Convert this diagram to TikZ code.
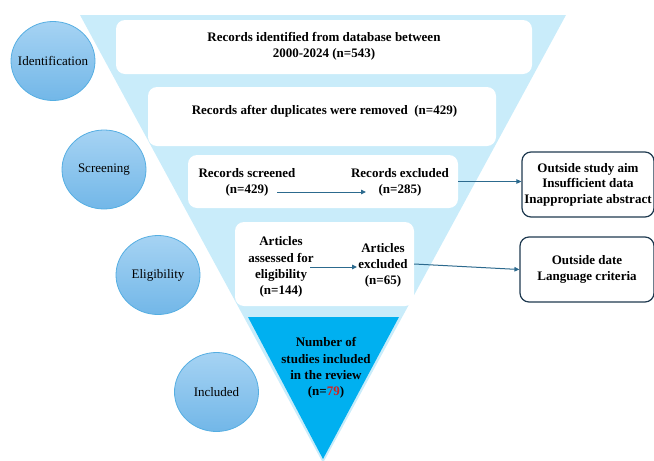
\documentclass[tikz,border=0pt]{standalone}
\usepackage{fontspec}
\setmainfont{Liberation Serif}
\usetikzlibrary{arrows.meta,shapes.geometric}
\definecolor{funnel}{HTML}{C9ECFA}
\definecolor{incl}{HTML}{00B0F0}
\definecolor{ringtop}{HTML}{A6D3F3}
\definecolor{ringbot}{HTML}{72B7E8}
\definecolor{ringline}{HTML}{55AEE2}
\definecolor{boxline}{HTML}{1F3A50}
\definecolor{arrline}{HTML}{2C6A8E}
\definecolor{numred}{HTML}{D02020}
\tikzset{
  stage/.style={ellipse,minimum width=84pt,minimum height=79pt,draw=ringline,
    line width=0.8pt,top color=ringtop,bottom color=ringbot,inner sep=0pt,
    label={[font=\fontsize{13}{16}\selectfont,inner sep=0pt]center:#1}},
  slab/.style={fill=white,rounded corners=9pt,inner sep=0pt},
  txt/.style={align=center,inner sep=0pt,font=\fontsize{13}{16.2}\selectfont\bfseries},
  why/.style={draw=boxline,line width=1.2pt,rounded corners=9pt,fill=white,inner sep=0pt,
    align=center,font=\fontsize{13}{15.6}\selectfont\bfseries},
  arr/.style={draw=arrline,line width=1pt,-{Triangle[length=5pt,width=4.5pt]}}
}
\begin{document}
\begin{tikzpicture}[x=1pt,y=-1pt]
  \useasboundingbox (0,0) rectangle (654,461);
  % funnel
  \fill[funnel] (80,15) -- (566,15) -- (323,463) -- cycle;
  \fill[incl] (248,317) -- (399,317) -- (323,459) -- cycle;
  % white slabs
  \node[slab,minimum width=416pt,minimum height=54pt] (box1) at (324,47) {};
  \node[slab,minimum width=348pt,minimum height=59pt] (box2) at (322,116.5) {};
  \node[slab,minimum width=270pt,minimum height=53pt] (box3) at (323,181.5) {};
  \node[slab,minimum width=179pt,minimum height=84pt] (box4) at (324.5,264) {};
  % stages
  \node[stage=Identification] (idn) at (53,61) {};
  \node[stage=Screening] (scn) at (104,169.5) {};
  \node[stage=Eligibility] (elg) at (158,275) {};
  \node[stage=Included] (inc) at (216.5,392) {};
  % texts
  \node[txt] (rid) at (324,46.5) {Records identified from database between\\2000-2024 (n=543)};
  \node[txt] (rdp) at (324.5,111) {Records after duplicates were removed\ \ (n=429)};
  \node[txt] (scr) at (247,182) {Records screened\\(n=429)};
  \node[txt] (exc) at (400,182.5) {Records excluded\\(n=285)};
  \node[txt] (asd) at (281,267) {Articles\\assessed for\\eligibility\\(n=144)};
  \node[txt] (axc) at (383,265.5) {Articles\\excluded\\(n=65)};
  \node[txt] (num) at (326,368) {Number of\\studies included\\in the review\\(n=\textcolor{numred}{79})};
  % reasons
  \node[why,minimum width=132pt,minimum height=65pt] (why1) at (588,184.5)
    {Outside study aim\\Insufficient data\\Inappropriate abstract};
  \node[why,minimum width=134pt,minimum height=65pt] (why2) at (587,269.5)
    {Outside date\\Language criteria};
  % arrows
  \draw[arr] ([shift={(30,10)}]scr.center) -- ([shift={(-34,10)}]scr.center -| exc.center);
  \draw[arr] (box3.east) -- (box3.east -| why1.west);
  \draw[arr] ([xshift=29pt]asd.center) -- ([xshift=-26pt]asd.center -| axc.center);
  \draw[arr] (box4.east) -- (why2.west);
\end{tikzpicture}
\end{document}
